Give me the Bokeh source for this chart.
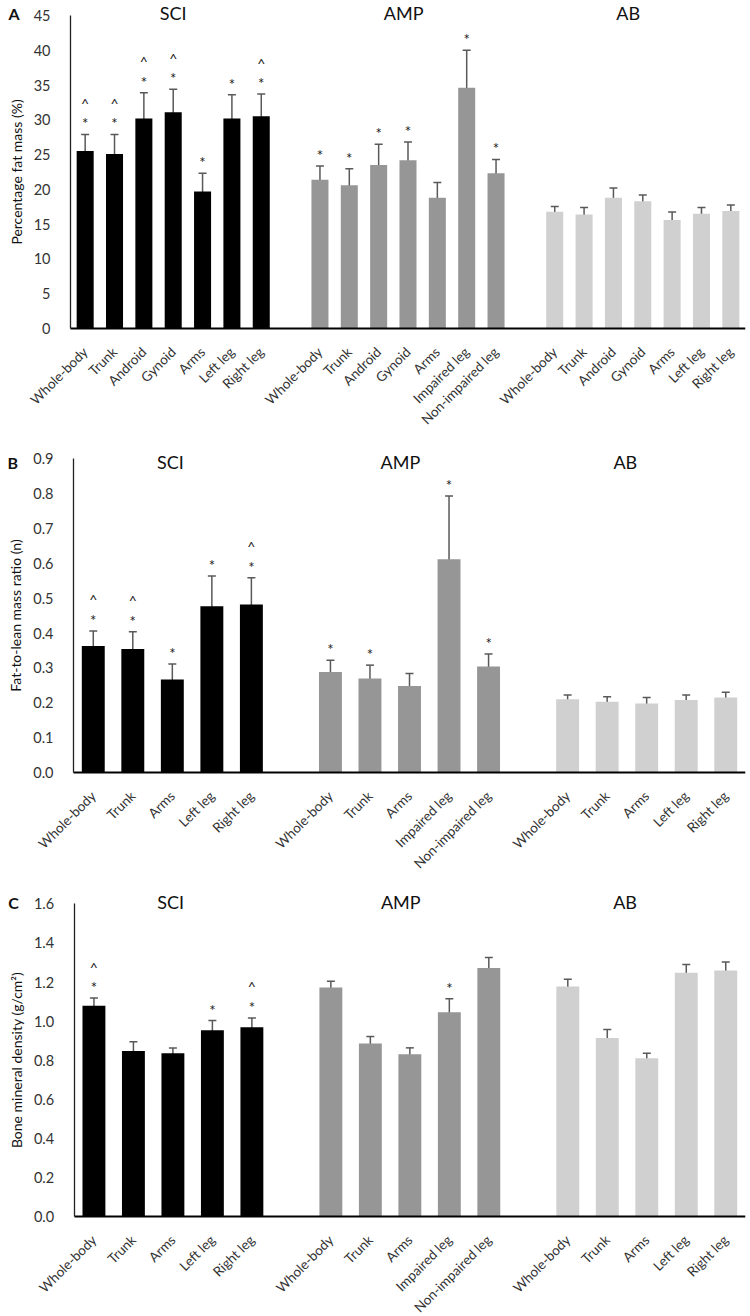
import math
from bokeh.plotting import figure
from bokeh.layouts import column
from bokeh.models import (ColumnDataSource, FixedTicker, Whisker, TeeHead, Label,
                          NumeralTickFormatter, Range1d)
from bokeh.embed import file_html
from bokeh.resources import INLINE

FONT = "Lato"

groups = ["SCI", "AMP", "AB"]
group_colors = ["#000000", "#969696", "#d0d0d0"]

# ---------------- Panel A: Percentage fat mass ----------------
a_sci_labels = ["Whole-body", "Trunk", "Android", "Gynoid", "Arms", "Left leg", "Right leg"]
a_amp_labels = ["Whole-body", "Trunk", "Android", "Gynoid", "Arms", "Impaired leg", "Non-impaired leg"]
a_ab_labels = ["Whole-body", "Trunk", "Android", "Gynoid", "Arms", "Left leg", "Right leg"]
a_sci_vals = [25.5, 25.1, 30.2, 31.1, 19.7, 30.2, 30.5]
a_sci_err = [2.4, 2.8, 3.7, 3.3, 2.6, 3.4, 3.2]
a_amp_vals = [21.4, 20.6, 23.5, 24.2, 18.8, 34.6, 22.3]
a_amp_err = [1.95, 2.35, 3.0, 2.6, 2.2, 5.4, 2.0]
a_ab_vals = [16.8, 16.4, 18.8, 18.3, 15.6, 16.5, 16.9]
a_ab_err = [0.75, 1.0, 1.4, 0.9, 1.15, 0.9, 0.85]
a_sci_sig = ["*^", "*^", "*^", "*^", "*", "*", "*^"]
a_amp_sig = ["*", "*", "*", "*", "", "*", "*"]
a_ab_sig = ["", "", "", "", "", "", ""]
a_yticks = [0, 5, 10, 15, 20, 25, 30, 35, 40, 45]

# ---------------- Panel B: Fat-to-lean mass ratio ----------------
b_sci_labels = ["Whole-body", "Trunk", "Arms", "Left leg", "Right leg"]
b_amp_labels = ["Whole-body", "Trunk", "Arms", "Impaired leg", "Non-impaired leg"]
b_ab_labels = ["Whole-body", "Trunk", "Arms", "Left leg", "Right leg"]
b_sci_vals = [0.363, 0.354, 0.267, 0.477, 0.482]
b_sci_err = [0.043, 0.050, 0.044, 0.087, 0.077]
b_amp_vals = [0.288, 0.270, 0.248, 0.612, 0.304]
b_amp_err = [0.034, 0.038, 0.036, 0.181, 0.036]
b_ab_vals = [0.210, 0.203, 0.198, 0.208, 0.215]
b_ab_err = [0.012, 0.014, 0.017, 0.014, 0.015]
b_sci_sig = ["*^", "*^", "*", "*", "*^"]
b_amp_sig = ["*", "*", "", "*", "*"]
b_ab_sig = ["", "", "", "", ""]
b_yticks = [0.0, 0.1, 0.2, 0.3, 0.4, 0.5, 0.6, 0.7, 0.8, 0.9]

# ---------------- Panel C: Bone mineral density ----------------
c_sci_labels = ["Whole-body", "Trunk", "Arms", "Left leg", "Right leg"]
c_amp_labels = ["Whole-body", "Trunk", "Arms", "Impaired leg", "Non-impaired leg"]
c_ab_labels = ["Whole-body", "Trunk", "Arms", "Left leg", "Right leg"]
c_sci_vals = [1.078, 0.847, 0.835, 0.953, 0.968]
c_sci_err = [0.040, 0.047, 0.027, 0.050, 0.048]
c_amp_vals = [1.172, 0.885, 0.830, 1.045, 1.272]
c_amp_err = [0.032, 0.036, 0.033, 0.069, 0.054]
c_ab_vals = [1.177, 0.914, 0.810, 1.247, 1.259]
c_ab_err = [0.037, 0.043, 0.026, 0.042, 0.043]
c_sci_sig = ["*^", "", "", "*", "*^"]
c_amp_sig = ["", "", "", "*", ""]
c_ab_sig = ["", "", "", "", ""]
c_yticks = [0.0, 0.2, 0.4, 0.6, 0.8, 1.0, 1.2, 1.4, 1.6]


def make_panel(letter, ylabel, labels, vals, errs, sigs, yticks, y_start, y_end,
               x_start, fmt, height, group_label_x, label_y, letter_offset):
    n = len(labels[0])
    nslots = 3 * n + 2
    p = figure(width=750, height=height, output_backend="svg", toolbar_location=None,
               x_range=Range1d(x_start, nslots), y_range=Range1d(y_start, y_end),
               min_border_left=0, min_border_right=5,
               min_border_top=0, min_border_bottom=0)
    p.outline_line_color = None
    p.xgrid.grid_line_color = None
    p.ygrid.grid_line_color = None
    p.background_fill_color = "white"

    ticks = []
    overrides = {}
    star_x, star_y, star_t = [], [], []
    caret_x, caret_y, caret_t = [], [], []
    for g in range(3):
        xs = [g * (n + 1) + i + 0.5 for i in range(n)]
        tops = [v + e for v, e in zip(vals[g], errs[g])]
        lows = [v - e for v, e in zip(vals[g], errs[g])]
        src = ColumnDataSource(dict(x=xs, top=vals[g], upper=tops, lower=lows))
        p.vbar(x="x", top="top", bottom=0, width=0.58, source=src,
               fill_color=group_colors[g], line_color=None)
        w = Whisker(base="x", upper="upper", lower="lower", source=src,
                    line_color="#595959", line_width=1.5,
                    upper_head=TeeHead(size=8, line_color="#595959", line_width=1.5),
                    lower_head=TeeHead(size=8, line_color="#595959", line_width=1.5))
        p.add_layout(w)
        for x, lab, top, s in zip(xs, labels[g], tops, sigs[g]):
            ticks.append(x)
            overrides[x] = lab
            if "*" in s:
                star_x.append(x); star_y.append(top); star_t.append("*")
            if "^" in s:
                caret_x.append(x); caret_y.append(top); caret_t.append("^")

    p.text(x=star_x, y=star_y, text=star_t, text_align="center", text_baseline="middle",
           y_offset=-11, text_font_size="15px", text_color="#1a1a1a",
           text_font={"value": FONT})
    p.text(x=caret_x, y=caret_y, text=caret_t, text_align="center", text_baseline="middle",
           y_offset=-31, text_font_size="14px", text_color="#1a1a1a",
           text_font={"value": FONT})

    xa = p.xaxis[0]
    xa.fixed_location = 0
    xa.ticker = FixedTicker(ticks=ticks)
    xa.major_label_overrides = overrides
    xa.major_label_orientation = math.pi / 4
    xa.bounds = (0, nslots)
    xa.major_tick_line_color = None
    xa.minor_tick_line_color = None
    xa.axis_line_color = "#000000"
    xa.axis_line_width = 1.8
    xa.major_label_text_font = FONT
    xa.major_label_text_font_size = "13.5px"
    xa.major_label_text_color = "#333333"
    xa.major_label_standoff = 15

    ya = p.yaxis[0]
    ya.fixed_location = 0
    ya.ticker = FixedTicker(ticks=yticks)
    ya.formatter = NumeralTickFormatter(format=fmt)
    ya.bounds = (yticks[0], yticks[-1])
    ya.major_tick_line_color = None
    ya.minor_tick_line_color = None
    ya.axis_line_color = "#222222"
    ya.axis_line_width = 1.3
    ya.major_label_text_font = FONT
    ya.major_label_text_font_size = "14.5px"
    ya.major_label_text_color = "#333333"
    ya.major_label_standoff = 14
    ya.axis_label = ylabel
    ya.axis_label_text_font = FONT
    ya.axis_label_text_font_size = "14px"
    ya.axis_label_text_font_style = "normal"
    ya.axis_label_text_color = "#111111"
    ya.axis_label_standoff = 6

    for gname, gx in zip(groups, group_label_x):
        p.add_layout(Label(x=gx, y=label_y, text=gname, text_align="center",
                           text_baseline="middle", text_font=FONT,
                           text_font_size="18px", text_color="#111111"))
    p.add_layout(Label(x=0, y=label_y, x_offset=letter_offset, text=letter,
                       text_align="left", text_baseline="middle", text_font=FONT,
                       text_font_size="16px", text_font_style="bold",
                       text_color="#111111"))
    return p


pA = make_panel("A", "Percentage fat mass (%)",
                [a_sci_labels, a_amp_labels, a_ab_labels],
                [a_sci_vals, a_amp_vals, a_ab_vals],
                [a_sci_err, a_amp_err, a_ab_err],
                [a_sci_sig, a_amp_sig, a_ab_sig],
                a_yticks, -16.1, 47.15, -2.385, "0", height=440,
                group_label_x=[3.5, 11.35, 19.0], label_y=45.3, letter_offset=-62)
pB = make_panel("B", "Fat-to-lean mass ratio (n)",
                [b_sci_labels, b_amp_labels, b_ab_labels],
                [b_sci_vals, b_amp_vals, b_ab_vals],
                [b_sci_err, b_amp_err, b_ab_err],
                [b_sci_sig, b_amp_sig, b_ab_sig],
                b_yticks, -0.3098, 0.9524, -1.847, "0.0", height=440,
                group_label_x=[2.45, 8.27, 13.96], label_y=0.89, letter_offset=-66)
pC = make_panel("C", "Bone mineral density (g/cm\u00b2)",
                [c_sci_labels, c_amp_labels, c_ab_labels],
                [c_sci_vals, c_amp_vals, c_ab_vals],
                [c_sci_err, c_amp_err, c_ab_err],
                [c_sci_sig, c_amp_sig, c_ab_sig],
                c_yticks, -0.5118, 1.7195, -1.866, "0.0", height=436,
                group_label_x=[2.44, 8.27, 13.95], label_y=1.607, letter_offset=-66)

layout = column(pA, pB, pC, spacing=0)
open("out.html", "w").write(file_html(layout, INLINE))
